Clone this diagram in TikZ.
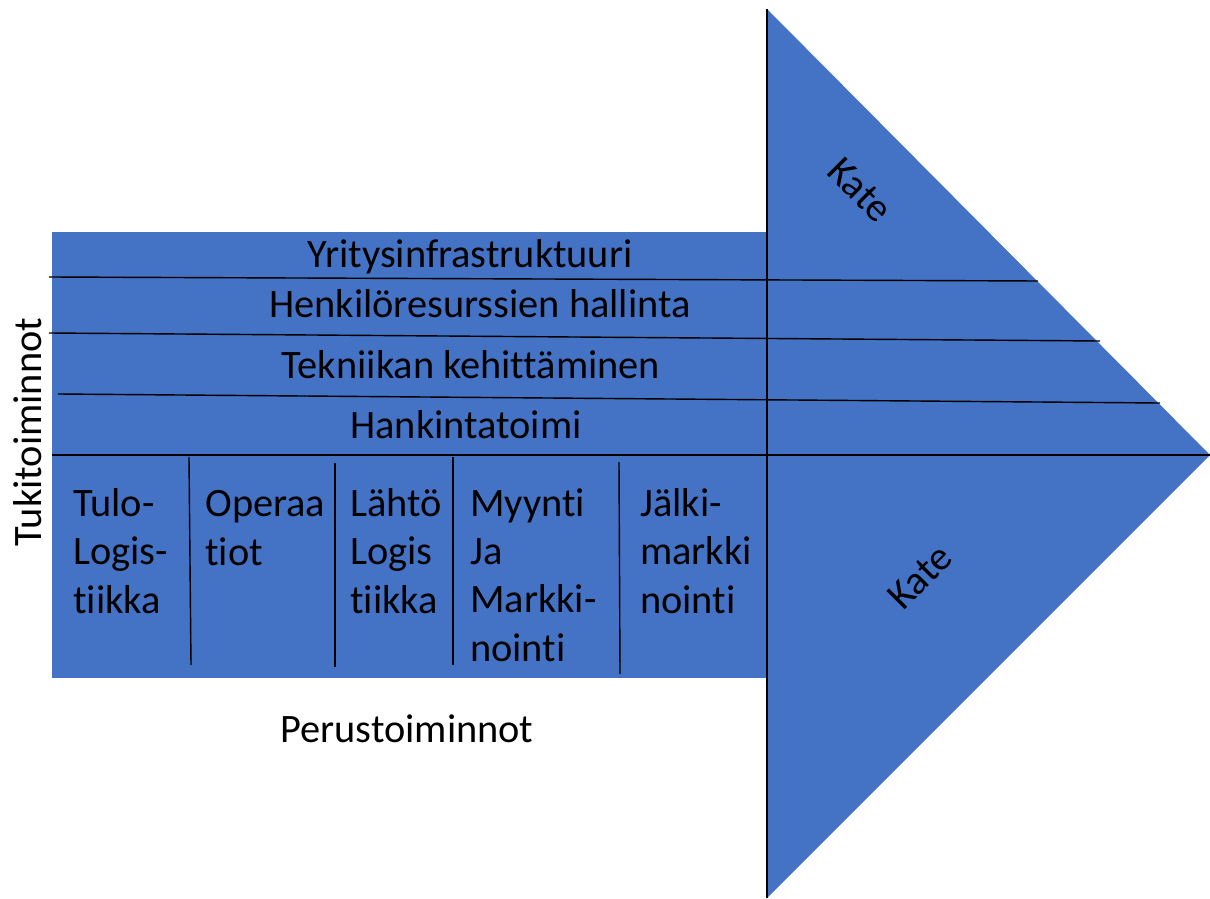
\documentclass[tikz,border=0pt]{standalone}
\usepackage{fontspec}
\setmainfont[Ligatures=NoCommon]{Carlito}
\usetikzlibrary{positioning}
\definecolor{chainblue}{HTML}{4472C4}

\begin{document}
\begin{tikzpicture}[x=0.025cm, y=-0.025cm, font=\fontsize{28.7}{34.2}\selectfont,
	fill block/.style = { fill=chainblue, draw=none },
	rule/.style = { draw=black, line width=1pt },
	label/.style = { inner sep=0pt, text=black },
	column/.style = { label, align=left, anchor=base west } ]

  \useasboundingbox (0,0) rectangle (1210,899);

  % arrow body and head
  \coordinate (headtop) at (767,9);
  \coordinate (headtip) at (1210,455);
  \coordinate (headbottom) at (767,898);
  \fill [fill block] (52,232) rectangle (767,678);
  \fill [fill block] (headtop) -- (headtip) -- (headbottom) -- cycle;
  \draw [rule] (headtop) -- (headbottom);

  % support rows
  \draw [rule] (49,277) -- (1038,281);
  \draw [rule] (49,333) -- (1100,341);
  \draw [rule] (58,394) -- (1160,403);
  \draw [rule] (52,455) -- (headtip);

  % primary columns
  \draw [rule] (189,457) -- (191,665);
  \draw [rule] (335,463) -- (335,667);
  \draw [rule] (453,457) -- (453,665);
  \draw [rule] (619,462) -- (620,674);

  \node [name=infra, label, anchor=base] at (470,268) {Yritysinfrastruktuuri};
  \node [name=hr, label, anchor=base] at (480,318) {Henkilöresurssien hallinta};
  \node [name=tech, label, anchor=base] at (471,378) {Tekniikan kehittäminen};
  \node [name=procure, label, anchor=base] at (466,438) {Hankintatoimi};

  % base = last line of each column
  \node [name=inbound, column] at (73,613) {Tulo-\\Logis-\\tiikka};
  \node [name=ops, column] at (205,565) {Operaa\\tiot};
  \node [name=outbound, column] at (350,613) {Lähtö\\Logis\\tiikka};
  \node [name=sales, column] at (470,661) {Myynti\\Ja\\Markki-\\nointi};
  \node [name=service, column] at (640,613) {Jälki-\\markki\\nointi};

  \node [name=support, label, rotate=90] at (28,432) {Tukitoiminnot};
  \node [name=primary, label, anchor=base] at (407,742) {Perustoiminnot};

  \node [name=margintop, label, rotate=-45] at (860,190) {Kate};
  \node [name=marginbottom, label, rotate=45] at (920,577) {Kate};
\end{tikzpicture}
\end{document}
